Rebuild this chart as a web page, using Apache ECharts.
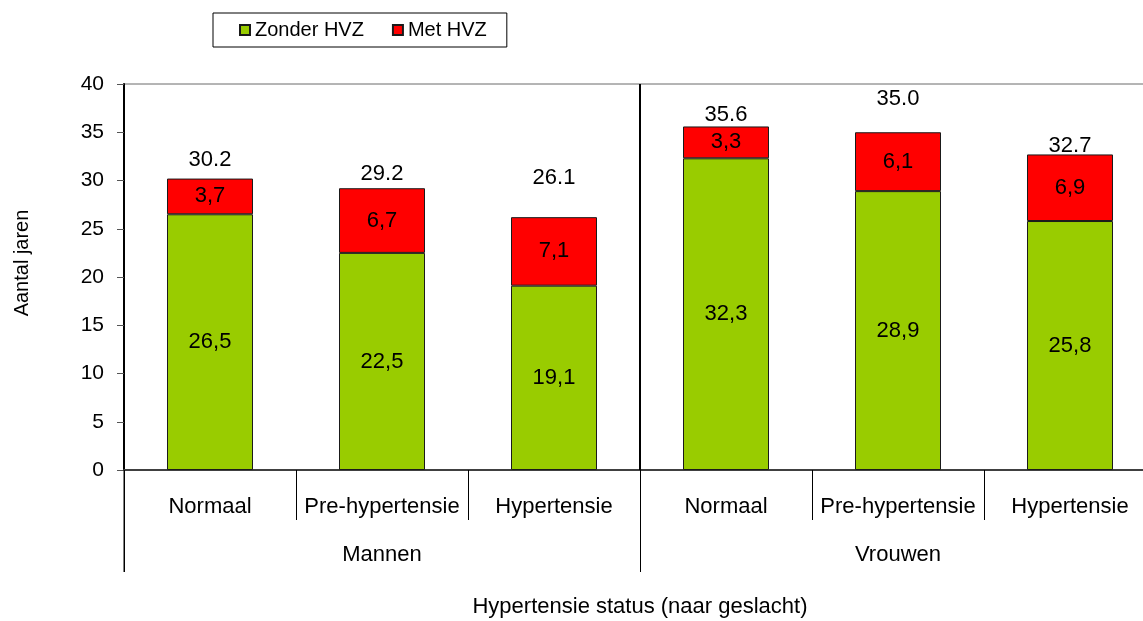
<!DOCTYPE html>
<html>
<head>
<meta charset="utf-8">
<script src="https://cdn.jsdelivr.net/npm/echarts@6/dist/echarts.min.js"></script>
<style>
html,body{margin:0;padding:0;background:#fff;overflow:hidden;width:1143px;height:621px;}
#c{width:1160px;height:621px;}
</style>
</head>
<body>
<div id="c"></div>
<script>
const categories = ['Normaal','Pre-hypertensie','Hypertensie','Normaal','Pre-hypertensie','Hypertensie'];
const groups = ['Mannen','Vrouwen'];
const zonderHVZ = [26.5, 22.5, 19.1, 32.3, 28.9, 25.8];
const metHVZ = [3.7, 6.7, 7.1, 3.3, 6.1, 6.9];
const totals = [30.2, 29.2, 26.1, 35.6, 35.0, 32.7];
const yTicks = [0, 5, 10, 15, 20, 25, 30, 35, 40];

// style only: vertical nudges of the total labels (as placed in the original)
const totalLabelNudge = [-6, -1, -27, 1, -20, 4];

const FONT = 'Liberation Sans, Arial, sans-serif';
const FS = 22;
const chart = echarts.init(document.getElementById('c'), null, {renderer:'canvas'});
const comma = v => v.toFixed(1).replace('.', ',');

const option = {
  backgroundColor: '#fff',
  animation: false,
  textStyle: {fontFamily: FONT},
  legend: {
    data: ['Zonder HVZ','Met HVZ'],
    left: 213, top: 13,
    orient: 'horizontal',
    borderColor: '#000', borderWidth: 1,
    padding: [7, 20, 7, 26],
    itemWidth: 10, itemHeight: 10, itemGap: 28,
    icon: 'rect',
    textStyle: {fontSize: 20, color: '#000', fontFamily: FONT}
  },
  grid: {
    left: 124, right: 4, top: 84, bottom: 151,
    containLabel: false,
    outerBoundsMode: 'none',
    show: true, borderColor: '#6a6a6a', borderWidth: 1, backgroundColor: 'transparent'
  },
  xAxis: [{
    type: 'category',
    data: categories,
    position: 'bottom',
    axisLine: {lineStyle: {color: '#404040', width: 2}},
    axisTick: {show: true, interval: 0, length: 50, lineStyle: {color: '#000', width: 1}},
    axisLabel: {interval: 0, fontSize: FS, color: '#000', margin: 26, fontFamily: FONT}
  }, {
    type: 'category',
    data: groups,
    position: 'bottom',
    offset: 50,
    axisLine: {show: false},
    axisTick: {show: true, interval: 0, length: 52, lineStyle: {color: '#000', width: 1}},
    axisLabel: {interval: 0, fontSize: FS, color: '#000', margin: 24, fontFamily: FONT},
    name: 'Hypertensie status (naar geslacht)',
    nameLocation: 'middle',
    nameGap: 76,
    nameTextStyle: {fontSize: FS, color: '#000', fontFamily: FONT}
  }],
  yAxis: {
    type: 'value',
    min: 0, max: 40, interval: 5,
    axisLine: {show: true, lineStyle: {color: '#000', width: 2}},
    axisTick: {show: true, length: 7, lineStyle: {color: '#555'}},
    splitLine: {show: false},
    axisLabel: {fontSize: 21, color: '#000', margin: 20, fontFamily: FONT,
      formatter: v => yTicks.includes(v) ? String(v) : ''}
  },
  series: [{
    name: 'Zonder HVZ',
    type: 'bar',
    stack: 'a',
    barWidth: 86,
    data: zonderHVZ,
    itemStyle: {color: '#99CC00', borderColor: '#1a1a1a', borderWidth: 1},
    label: {show: true, position: 'inside', fontSize: FS, color: '#000', fontFamily: FONT,
      formatter: p => comma(p.value)}
  }, {
    name: 'Met HVZ',
    type: 'bar',
    stack: 'a',
    barWidth: 86,
    data: metHVZ,
    itemStyle: {color: '#FF0000', borderColor: '#1a1a1a', borderWidth: 1},
    label: {show: true, position: 'inside', fontSize: FS, color: '#000', fontFamily: FONT,
      formatter: p => comma(p.value)}
  }, {
    name: 'Totaal',
    type: 'scatter',
    data: totals.map((v, i) => ({value: v, label: {offset: [0, totalLabelNudge[i]]}})),
    symbolSize: 0,
    z: 1,
    itemStyle: {opacity: 1},
    label: {show: true, position: 'top', distance: 2, fontSize: FS, color: '#000', opacity: 1, fontFamily: FONT,
      formatter: p => Number(p.value).toFixed(1)}
  }]
};
chart.setOption(option);

const x2 = chart.convertToPixel({xAxisIndex: 0}, 2);
const x3 = chart.convertToPixel({xAxisIndex: 0}, 3);
const midX = Math.round((x2 + x3) / 2);
const yTop = chart.convertToPixel({yAxisIndex: 0}, 40);
const yBot = chart.convertToPixel({yAxisIndex: 0}, 0);
const x0 = chart.convertToPixel({xAxisIndex: 0}, 0) - (x3 - x2) / 2;
chart.setOption({
  graphic: [{
    type: 'line',
    shape: {x1: midX, y1: yTop, x2: midX, y2: yBot},
    style: {stroke: '#000', lineWidth: 2},
    z: 10
  }, {
    type: 'line',
    shape: {x1: x0, y1: yBot, x2: x0, y2: yBot + 102},
    style: {stroke: '#000', lineWidth: 1},
    z: 10
  }, {
    type: 'text',
    x: 22, y: 263,
    rotation: Math.PI / 2,
    style: {text: 'Aantal jaren', fontSize: 20, fill: '#000', fontFamily: FONT,
      textAlign: 'center', textVerticalAlign: 'middle'}
  }]
});
</script>
</body>
</html>
